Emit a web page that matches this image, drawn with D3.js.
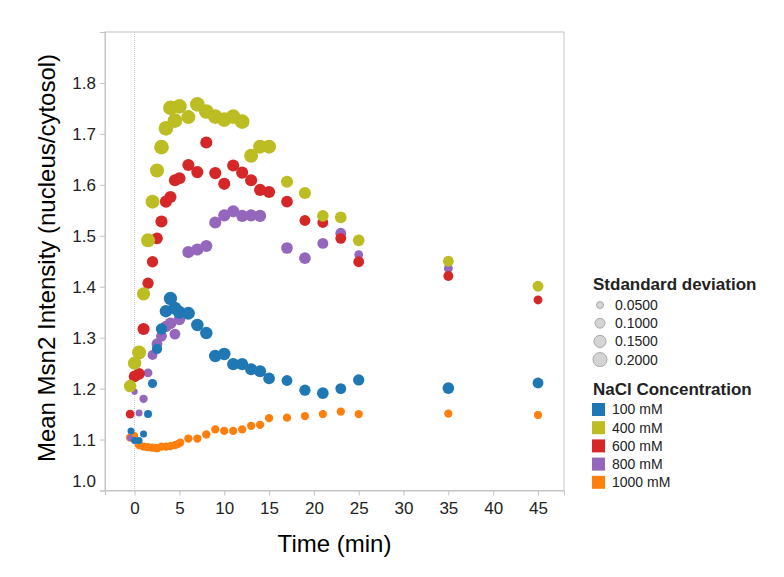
<!DOCTYPE html>
<html>
<head>
<meta charset="utf-8">
<script src="https://cdn.jsdelivr.net/npm/d3@7"></script>
<style>
  body { margin: 0; background: #fff; }
  text { font-family: Arial, "Liberation Sans", sans-serif; }
</style>
</head>
<body>
<div id="chart-container"></div>
<script>
// values: [time (min), mean intensity, std dev]
const concentrations = ["100 mM", "400 mM", "600 mM", "800 mM", "1000 mM"];
const colors = ["#1f77b4", "#bcbd22", "#d62728", "#9467bd", "#ff7f0e"];
const sdLegend = [0.05, 0.10, 0.15, 0.20];
const xTicks = [0, 5, 10, 15, 20, 25, 30, 35, 40, 45];
const yTicks = [1.0, 1.1, 1.2, 1.3, 1.4, 1.5, 1.6, 1.7, 1.8];

const mM100 = [[-0.4,1.117,0.05],[0,1.098,0.05],[0.5,1.098,0.05],[1,1.111,0.05],[1.5,1.150,0.065],
  [2,1.210,0.085],[2.5,1.278,0.11],[3,1.317,0.13],[3.5,1.352,0.16],[4,1.377,0.18],[4.5,1.358,0.17],
  [5,1.350,0.17],[6,1.348,0.17],[7,1.325,0.16],[8,1.309,0.16],[9,1.264,0.16],[10,1.268,0.16],
  [11,1.248,0.15],[12,1.248,0.15],[13,1.238,0.15],[14,1.234,0.15],[15,1.220,0.14],[17,1.216,0.12],
  [19,1.197,0.13],[21,1.191,0.14],[23,1.200,0.12],[25,1.217,0.13],[35,1.201,0.14],[45,1.211,0.12]];

const mM400 = [[-0.5,1.205,0.16],[0,1.250,0.18],[0.5,1.271,0.2],[1,1.386,0.18],[1.5,1.491,0.2],
  [2,1.567,0.2],[2.5,1.628,0.2],[3,1.674,0.22],[3.5,1.711,0.22],[4,1.751,0.22],[4.5,1.726,0.22],
  [5,1.754,0.22],[6,1.733,0.2],[7,1.758,0.22],[8,1.744,0.22],[9,1.734,0.22],[10,1.728,0.22],
  [11,1.734,0.22],[12,1.724,0.22],[13,1.657,0.2],[14,1.675,0.2],[15,1.675,0.2],[17,1.606,0.15],
  [19,1.584,0.15],[21,1.539,0.14],[23,1.536,0.14],[25,1.491,0.14],[35,1.450,0.12],[45,1.401,0.12]];

const mM600 = [[-0.5,1.150,0.08],[0,1.224,0.14],[0.5,1.229,0.14],[1,1.317,0.15],[1.5,1.407,0.13],
  [2,1.449,0.13],[2.5,1.495,0.14],[3,1.528,0.15],[3.5,1.567,0.15],[4,1.576,0.15],[4.5,1.609,0.15],
  [5,1.613,0.15],[6,1.639,0.15],[7,1.625,0.15],[8,1.683,0.15],[9,1.623,0.15],[10,1.602,0.15],
  [11,1.638,0.15],[12,1.624,0.15],[13,1.609,0.15],[14,1.590,0.15],[15,1.586,0.15],[17,1.567,0.14],
  [19,1.530,0.12],[21,1.526,0.12],[23,1.495,0.12],[25,1.449,0.12],[35,1.421,0.1],[45,1.374,0.08]];

const mM800 = [[-0.5,1.103,0.04],[0,1.194,0.04],[0.5,1.152,0.05],[1,1.180,0.07],[1.5,1.231,0.08],
  [2,1.266,0.1],[2.5,1.288,0.12],[3,1.303,0.12],[3.5,1.322,0.13],[4,1.328,0.14],[4.5,1.307,0.12],
  [5,1.336,0.14],[6,1.468,0.15],[7,1.473,0.15],[8,1.480,0.15],[9,1.526,0.15],[10,1.540,0.15],
  [11,1.548,0.15],[12,1.539,0.15],[13,1.540,0.15],[14,1.539,0.15],[17,1.476,0.14],[19,1.456,0.14],
  [21,1.485,0.12],[23,1.505,0.12],[25,1.463,0.08],[35,1.436,0.08]];

const mM1000 = [[-0.5,1.104,0.07],[0,1.108,0.05],[0.5,1.089,0.07],[1,1.086,0.07],[1.5,1.085,0.07],
  [2,1.084,0.07],[2.5,1.083,0.07],[3,1.086,0.07],[3.5,1.086,0.07],[4,1.087,0.07],[4.5,1.089,0.07],
  [4.8,1.091,0.07],[5.1,1.094,0.07],[6,1.102,0.07],[7,1.102,0.07],[8,1.110,0.07],[9,1.120,0.07],
  [10,1.117,0.07],[11,1.117,0.07],[12,1.120,0.07],[13,1.127,0.07],[14,1.129,0.07],[15,1.142,0.07],
  [17,1.143,0.07],[19,1.146,0.07],[21,1.150,0.07],[23,1.155,0.07],[25,1.150,0.07],[35,1.151,0.07],[45,1.148,0.065]];

const seriesData = [mM100, mM400, mM600, mM800, mM1000];
// bottom to top drawing order
const drawOrder = [4, 3, 2, 0, 1];

const W = 784, H = 577;
const plot = {left: 105, top: 32, right: 564, bottom: 490.5};

const svg = d3.select("#chart-container")
    .append("svg")
    .attr("width", W)
    .attr("height", H);

const x = d3.scaleLinear()
    .domain([-3.3, 47.9])
    .range([plot.left, plot.right]);

const y = d3.scaleLinear()
    .domain([1.0, 1.9])
    .range([plot.bottom, plot.top]);

const r = d3.scaleSqrt()
    .domain([0, 0.2])
    .range([0, 7]);

const color = d3.scaleOrdinal()
    .domain(concentrations)
    .range(colors);

// frame
svg.append("rect")
    .attr("x", plot.left)
    .attr("y", plot.top)
    .attr("width", plot.right - plot.left)
    .attr("height", plot.bottom - plot.top)
    .attr("fill", "none")
    .attr("stroke", "#c4c4c4")
    .attr("stroke-width", 1);

// zero line
svg.append("line")
    .attr("x1", x(0)).attr("x2", x(0))
    .attr("y1", plot.top).attr("y2", plot.bottom)
    .attr("stroke", "#c8c8c8")
    .attr("stroke-dasharray", "1,1");

// x axis
const xAxis = svg.append("g")
    .attr("transform", `translate(0, ${plot.bottom})`)
    .call(d3.axisBottom(x).tickValues(xTicks).tickSize(5).tickPadding(6).tickFormat(d3.format("d")));
xAxis.select(".domain").attr("stroke", "#c4c4c4");
xAxis.selectAll(".tick line").attr("stroke", "#c4c4c4");
xAxis.selectAll(".tick text")
    .style("font-size", "17px")
    .style("fill", "#222");

// y axis
const yAxis = svg.append("g")
    .attr("transform", `translate(${plot.left}, 0)`)
    .call(d3.axisLeft(y).tickValues(yTicks).tickSize(5).tickPadding(4).tickFormat(d3.format(".1f")));
yAxis.select(".domain").attr("stroke", "#c4c4c4");
yAxis.selectAll(".tick line").attr("stroke", "#c4c4c4");
yAxis.selectAll(".tick text")
    .style("font-size", "17px")
    .style("fill", "#222")
    .attr("dy", d => d === 1.0 ? "-0.22em" : "0.32em");

// axis titles
svg.append("text")
    .attr("text-anchor", "middle")
    .attr("x", (plot.left + plot.right) / 2)
    .attr("y", 552)
    .text("Time (min)")
    .style("font-size", "24px")
    .style("fill", "black");

svg.append("text")
    .attr("text-anchor", "middle")
    .attr("transform", "translate(55, 258) rotate(-90)")
    .text("Mean Msn2 Intensity (nucleus/cytosol)")
    .style("font-size", "24px")
    .style("fill", "black");

// points
drawOrder.forEach(i => {
    svg.append("g")
        .selectAll("circle")
        .data(seriesData[i])
        .enter()
        .append("circle")
        .attr("cx", d => x(d[0]))
        .attr("cy", d => y(d[1]))
        .attr("r", d => r(d[2]))
        .style("fill", color(concentrations[i]));
});

// legend: size
const lx = 593;
svg.append("text")
    .attr("x", lx).attr("y", 290)
    .text("Stdandard deviation")
    .style("font-size", "17px")
    .style("font-weight", "bold")
    .style("fill", "#222");

const sizeLeg = svg.append("g")
    .selectAll("g")
    .data(sdLegend)
    .enter()
    .append("g")
    .attr("transform", (d, i) => `translate(${lx + 7}, ${305 + i * 18.2})`);
sizeLeg.append("circle")
    .attr("r", d => r(d))
    .style("fill", "#d4d4d4")
    .style("stroke", "#a8a8a8")
    .style("stroke-width", 1);
sizeLeg.append("text")
    .attr("x", 15)
    .attr("dy", "0.35em")
    .text(d => d.toFixed(4))
    .style("font-size", "14px")
    .style("fill", "#222");

// legend: colour
svg.append("text")
    .attr("x", lx).attr("y", 395)
    .text("NaCl Concentration")
    .style("font-size", "17px")
    .style("font-weight", "bold")
    .style("fill", "#222");

const colLeg = svg.append("g")
    .selectAll("g")
    .data(concentrations)
    .enter()
    .append("g")
    .attr("transform", (d, i) => `translate(${lx - 1}, ${409.5 + i * 18.2})`);
colLeg.append("rect")
    .attr("x", 0).attr("y", -6.5)
    .attr("width", 13).attr("height", 13)
    .style("fill", d => color(d));
colLeg.append("text")
    .attr("x", 20)
    .attr("dy", "0.35em")
    .text(d => d)
    .style("font-size", "14px")
    .style("fill", "#222");
</script>
</body>
</html>
